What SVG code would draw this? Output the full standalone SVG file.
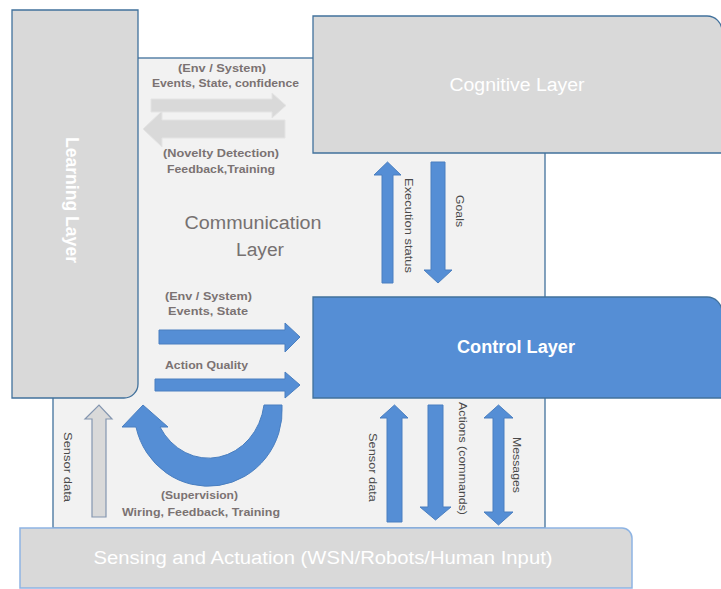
<svg xmlns="http://www.w3.org/2000/svg" width="721" height="589" viewBox="0 0 721 589">
  <style>
    .layer { fill: #d9d9d9; stroke: #41719c; stroke-width: 1.3; }
    .comm { fill: #f2f2f2; stroke: #41719c; stroke-width: 1.3; }
    .ctrl { fill: #558ed5; stroke: #41719c; stroke-width: 1.3; }
    .sense { fill: #d9d9d9; stroke: #8eb4e3; stroke-width: 1.5; }
    .blue { fill: #558ed5; stroke: #4a7fc0; stroke-width: 1; }
    .grey { fill: #d9d9d9; stroke: #e4e4e4; stroke-width: 1; }
    .greyo { fill: #d9d9d9; stroke: #8496b0; stroke-width: 1.2; }
    text { font-family: "Liberation Sans", Arial, sans-serif; }
    .title { fill: #ffffff; font-size: 18px; text-anchor: middle; dominant-baseline: central; }
    .commt { fill: #767171; font-size: 18px; text-anchor: middle; dominant-baseline: central; }
    .lbl { fill: #7b7272; font-size: 10.5px; font-weight: bold; text-anchor: middle; dominant-baseline: central; }
    .vlbl { fill: #4a4a4a; font-size: 10px; text-anchor: middle; dominant-baseline: central; }
  </style>

  <!-- communication layer backdrop -->
  <g id="communication-layer">
    <rect class="comm" x="53" y="58" width="492" height="470"/>
    <text class="commt" x="253" y="223" textLength="137" lengthAdjust="spacingAndGlyphs">Communication</text>
    <text class="commt" x="260" y="250" textLength="48" lengthAdjust="spacingAndGlyphs">Layer</text>
  </g>

  <g id="learning-layer">
    <path class="layer" d="M12,10 H138 V384 A14,14 0 0 1 124,398 H12 Z"/>
    <text class="title" font-weight="bold" transform="translate(72,200) rotate(90)" textLength="126" lengthAdjust="spacingAndGlyphs">Learning Layer</text>
  </g>

  <g id="cognitive-layer">
    <path class="layer" d="M313,16 H707 A15,15 0 0 1 722,31 V153 H313 Z"/>
    <text class="title" x="517" y="85" textLength="135" lengthAdjust="spacingAndGlyphs">Cognitive Layer</text>
  </g>

  <g id="control-layer">
    <path class="ctrl" d="M313,297 H707 A15,15 0 0 1 722,312 V398 H313 Z"/>
    <text class="title" font-weight="bold" x="516" y="347" textLength="118" lengthAdjust="spacingAndGlyphs">Control Layer</text>
  </g>

  <g id="sensing-actuation">
    <path class="sense" d="M20,528 H622 A10,10 0 0 1 632,538 V588 H20 Z"/>
    <text class="title" x="323" y="558" textLength="459" lengthAdjust="spacingAndGlyphs">Sensing and Actuation  (WSN/Robots/Human Input)</text>
  </g>

  <!-- block arrows between layers -->
  <g id="connectors">
    <!-- learning <-> cognitive -->
    <polygon class="grey" points="285,120 162,120 162,111 143,129 162,147 162,138 285,138"/>
    <polygon class="grey" points="151,99 272,99 272,93 286,105.5 272,118 272,112 151,112"/>

    <!-- cognitive <-> control -->
    <polygon class="blue" points="382,283 382,175 374,175 387.5,162 401,175 393,175 393,283"/>
    <polygon class="blue" points="431,162 445,162 445,270 452,270 438,283 424,270 431,270"/>

    <!-- learning -> control -->
    <polygon class="blue" points="159,330 285,330 285,323 300,337 285,352 285,344 159,344"/>
    <polygon class="blue" points="155,379 285,379 285,372 300,385 285,398 285,391 155,391"/>

    <!-- supervision loop -->
    <path class="blue" d="M282,405 A74,76 0 0 1 136,427 L122,427 L143,405 L168,427 L160,427 A56,62 0 0 0 264,405 Z"/>

    <!-- sensing -> learning -->
    <polygon class="greyo" points="92,517 92,419 85,419 99,405 112,419 106,419 106,517"/>

    <!-- sensing <-> control -->
    <polygon class="blue" points="387,522 387,418 380,418 394.5,405 408,418 402,418 402,522"/>
    <polygon class="blue" points="428,405 443,405 443,507 451,507 435.5,520 420,507 428,507"/>
    <polygon class="blue" points="498.5,405 513,418 504,418 504,512 513,512 498.5,525 484,512 493,512 493,418 484,418"/>

    <!-- connector labels -->
    <text class="lbl" x="222" y="68" textLength="88" lengthAdjust="spacingAndGlyphs">(Env / System)</text>
    <text class="lbl" x="225.5" y="83" textLength="147" lengthAdjust="spacingAndGlyphs">Events, State, confidence</text>
    <text class="lbl" x="221" y="153" textLength="116" lengthAdjust="spacingAndGlyphs">(Novelty Detection)</text>
    <text class="lbl" x="221" y="169" textLength="108" lengthAdjust="spacingAndGlyphs">Feedback,Training</text>
    <text class="lbl" x="208.5" y="296" textLength="87" lengthAdjust="spacingAndGlyphs">(Env / System)</text>
    <text class="lbl" x="208" y="311" textLength="80" lengthAdjust="spacingAndGlyphs">Events, State</text>
    <text class="lbl" x="206.5" y="365" textLength="83" lengthAdjust="spacingAndGlyphs">Action Quality</text>
    <text class="lbl" x="199.5" y="495" textLength="77" lengthAdjust="spacingAndGlyphs">(Supervision)</text>
    <text class="lbl" x="201" y="512" textLength="158" lengthAdjust="spacingAndGlyphs">Wiring, Feedback,  Training</text>

    <text class="vlbl" transform="translate(408,225.5) rotate(90)" textLength="95" lengthAdjust="spacingAndGlyphs">Execution status</text>
    <text class="vlbl" transform="translate(459,211) rotate(90)" textLength="32" lengthAdjust="spacingAndGlyphs">Goals</text>
    <text class="vlbl" transform="translate(67,467) rotate(90)" textLength="70" lengthAdjust="spacingAndGlyphs">Sensor data</text>
    <text class="vlbl" transform="translate(372,467.5) rotate(90)" textLength="69" lengthAdjust="spacingAndGlyphs">Sensor data</text>
    <text class="vlbl" transform="translate(462,458.5) rotate(90)" textLength="113" lengthAdjust="spacingAndGlyphs">Actions (commands)</text>
    <text class="vlbl" transform="translate(516,465) rotate(90)" textLength="56" lengthAdjust="spacingAndGlyphs">Messages</text>
  </g>
</svg>
